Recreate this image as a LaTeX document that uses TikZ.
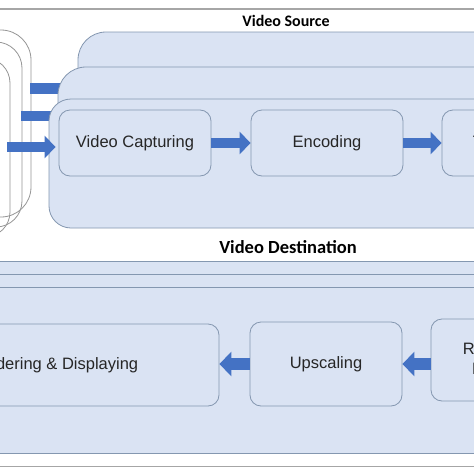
\documentclass[tikz,border=0pt]{standalone}
\usepackage{fontspec}
\setmainfont{Liberation Sans}
\newfontfamily\headfont{Carlito}
\usetikzlibrary{arrows.meta}
\definecolor{boxfill}{HTML}{DAE3F3}
\definecolor{boxline}{HTML}{8497B0}
\definecolor{arrowblue}{HTML}{4472C4}
\definecolor{outl}{HTML}{969696}
\definecolor{sepline}{HTML}{A6A6A6}
\begin{document}
\begin{tikzpicture}[x=1pt,y=-1pt,
  bigbox/.style={draw=boxline, fill=boxfill, line width=0.8pt},
  stepbox/.style={draw=boxline, fill=boxfill, line width=0.8pt, rounded corners=11pt,
    inner sep=0pt, align=center, font=\fontsize{16.5}{20}\selectfont, text=black!85},
  blockarrow/.style={draw=arrowblue, line width=10.5pt, -{Triangle[length=11pt,width=22pt]}},
  blockarrowb/.style={draw=arrowblue, line width=12pt, -{Triangle[length=12pt,width=24pt]}},
  barline/.style={draw=arrowblue, line width=10.5pt},
  outline/.style={draw=outl, line width=0.8pt},
  heading/.style={font=\headfont\bfseries\fontsize{16}{19}\selectfont, text=black},
]
\useasboundingbox (0,0) rectangle (474,474);
\clip (0,0) rectangle (474,474);
\fill[white] (0,0) rectangle (474,474);
% separators
\draw[sepline, line width=1.5pt] (-5,9) -- (480,9);
\draw[sepline, line width=1pt] (-5,466) -- (480,466);
% headings
\node[heading] (src) at (286,21) {Video Source};
\node[heading, font=\headfont\bfseries\fontsize{18.5}{22}\selectfont] (dst) at (288,247) {Video Destination};
% left outlines
\draw[outline, rounded corners=30pt] (-60,30) rectangle (31,217);
\draw[outline, rounded corners=26pt] (-60,42) rectangle (22,227);
\draw[outline, rounded corners=25pt] (-60,58) rectangle (10,237);
% source stack
\draw[bigbox, rounded corners=28pt] (78,32) rectangle (540,210);
\coordinate (b1s) at (30,88.5);
\coordinate (b1e) at (80,88.5);
\draw[barline] (b1s) -- (b1e);
\draw[bigbox, rounded corners=28pt] (58,67) rectangle (540,215);
\coordinate (b2s) at (21,116);
\coordinate (b2e) at (70,116);
\draw[barline] (b2s) -- (b2e);
\draw[bigbox, rounded corners=22pt] (49,99) rectangle (540,228);
\node[stepbox, minimum width=152pt, minimum height=66pt] (cap) at (135,143) {Video Capturing};
\node[stepbox, minimum width=152pt, minimum height=66pt] (enc) at (327,143) {Encoding};
\node[stepbox, minimum width=152pt, minimum height=66pt] (tra) at (518,143) {Transmitting};
\draw[blockarrow] (cap.east) -- (enc.west);
\draw[blockarrow] (enc.east) -- (tra.west);
\coordinate (in) at (7,147);
\draw[blockarrow] (in) -- ([xshift=-3pt]in -| cap.west);
% destination stack
\draw[bigbox] (-10,261) rectangle (490,453);
\draw[bigbox] (-10,274) rectangle (490,453);
\draw[bigbox] (-10,287) rectangle (490,453);
\node[stepbox, minimum width=334pt, minimum height=82pt] (ren) at (52,365) {Rendering \& Displaying};
\node[stepbox, minimum width=152pt, minimum height=84pt] (ups) at (326,364) {Upscaling};
\node[stepbox, minimum width=152pt, minimum height=82pt] (rec) at (507,360) {Receiving \&\\Decoding};
\draw[blockarrowb] (rec.west |- ups.east) -- (ups.east);
\draw[blockarrowb] (ups.west) -- (ups.west -| ren.east);
\end{tikzpicture}
\end{document}
